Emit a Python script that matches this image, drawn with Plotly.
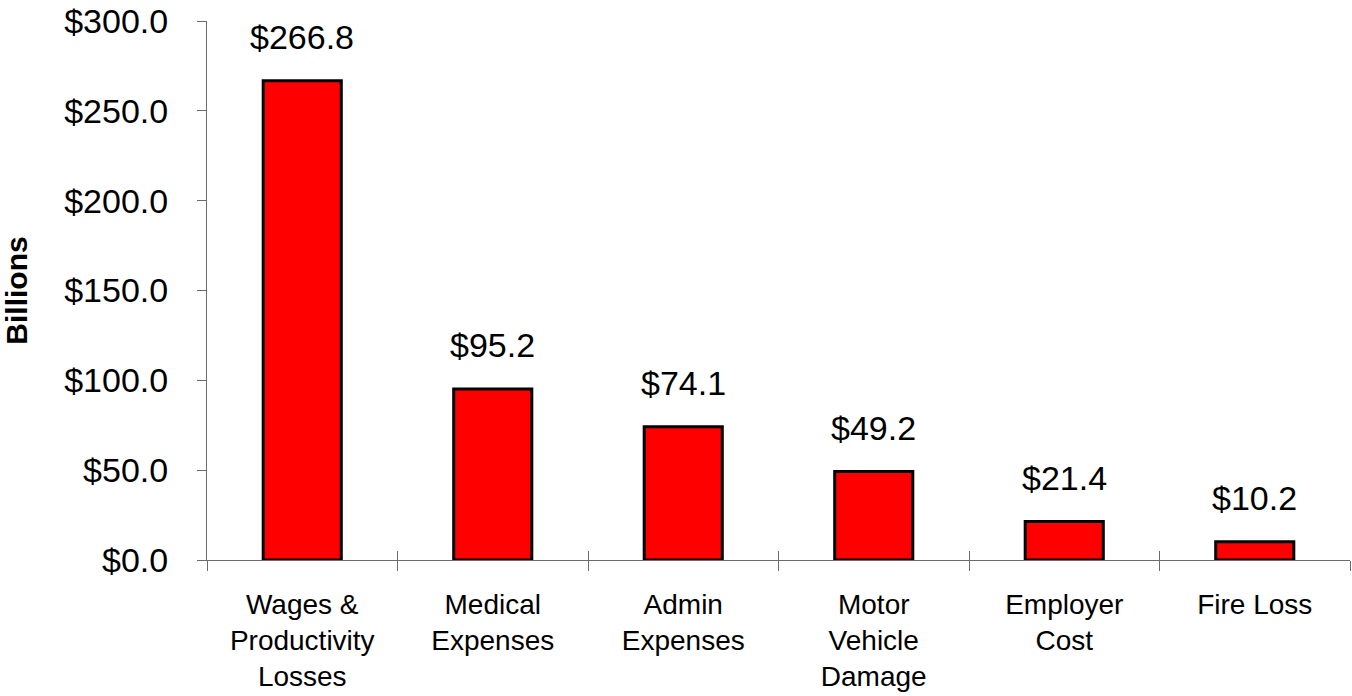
import plotly.graph_objects as go

categories = ["Wages &<br>Productivity<br>Losses", "Medical<br>Expenses", "Admin<br>Expenses",
              "Motor<br>Vehicle<br>Damage", "Employer<br>Cost", "Fire Loss"]
values = [266.8, 95.2, 74.1, 49.2, 21.4, 10.2]
tick_vals = [0, 50, 100, 150, 200, 250, 300]
tick_text = ["$0.0", "$50.0", "$100.0", "$150.0", "$200.0", "$250.0", "$300.0"]
labels = ["$%.1f" % v for v in values]

FONT = "Arial, Liberation Sans, sans-serif"
AXIS_COLOR = "#6b6b6b"

fig = go.Figure()
fig.add_trace(go.Bar(
    x=categories, y=values,
    marker=dict(color="#FF0000", line=dict(color="black", width=3)),
    hoverinfo="x+y",
))
# invisible trace on overlay axis for crossing ticks
fig.add_trace(go.Bar(x=categories, y=values, xaxis="x2", opacity=0,
                     hoverinfo="skip", showlegend=False))

for c, v, t in zip(categories, values, labels):
    fig.add_annotation(x=c, y=v, text=t, showarrow=False, yanchor="bottom",
                       yshift=23, font=dict(family=FONT, size=34, color="black"))

fig.update_layout(
    width=1352, height=696,
    margin=dict(l=207, r=2, t=18, b=136),
    paper_bgcolor="white", plot_bgcolor="white",
    showlegend=False,
    bargap=0.59,
    font=dict(family=FONT, color="black"),
    xaxis=dict(
        type="category", range=[-0.5, 5.5],
        showline=True, linecolor=AXIS_COLOR, linewidth=1,
        ticks="outside", ticklen=10, tickcolor=AXIS_COLOR, tickwidth=1,
        tickson="boundaries",
        tickfont=dict(family=FONT, size=28, color="black"),
        ticklabelstandoff=19,
        showgrid=False, zeroline=False,
    ),
    xaxis2=dict(
        type="category", range=[-0.5, 5.5], overlaying="x", side="bottom",
        matches="x",
        showline=False, ticks="inside", ticklen=9, tickcolor=AXIS_COLOR, tickwidth=1,
        tickson="boundaries", showticklabels=False, showgrid=False, zeroline=False,
    ),
    yaxis=dict(
        range=[0, 300.001], tickvals=tick_vals, ticktext=tick_text,
        showline=True, linecolor=AXIS_COLOR, linewidth=1,
        ticks="outside", ticklen=9, tickcolor=AXIS_COLOR, tickwidth=1,
        tickfont=dict(family=FONT, size=34, color="black"),
        ticklabelstandoff=22, ticklabeloverflow="allow",
        showgrid=False, zeroline=False,
        title=dict(text="<b>Billions</b>", font=dict(family=FONT, size=30, color="black"),
                   standoff=30),
    ),
)

fig.write_html("out.html", config={"displayModeBar": False},
               post_script="document.body.style.margin='0px';")
